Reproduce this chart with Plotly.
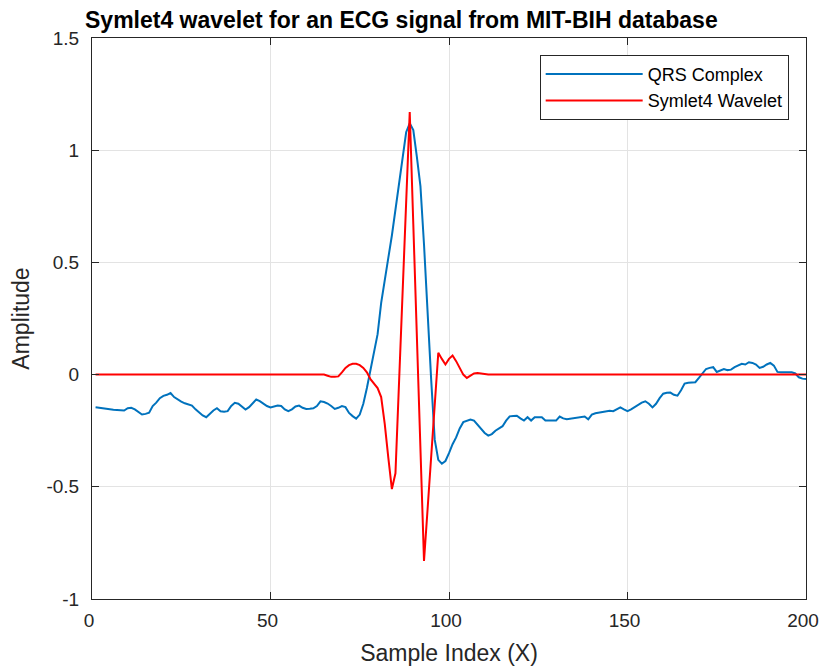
import plotly.graph_objects as go

sample_idx = list(range(1, 201))

qrs_complex = [
    -0.145, -0.148, -0.150, -0.152, -0.155, -0.157, -0.158, -0.160, -0.160, -0.150,
    -0.148, -0.155, -0.165, -0.178, -0.175, -0.170, -0.140, -0.125, -0.105, -0.095,
    -0.090, -0.082, -0.100, -0.112, -0.120, -0.128, -0.132, -0.138, -0.155, -0.170,
    -0.182, -0.190, -0.175, -0.160, -0.150, -0.163, -0.165, -0.163, -0.140, -0.126,
    -0.130, -0.145, -0.156, -0.145, -0.130, -0.111, -0.118, -0.130, -0.140, -0.146,
    -0.142, -0.138, -0.140, -0.155, -0.163, -0.155, -0.142, -0.138, -0.148, -0.153,
    -0.152, -0.150, -0.140, -0.119, -0.122, -0.129, -0.140, -0.153, -0.148, -0.140,
    -0.145, -0.171, -0.185, -0.196, -0.178, -0.130, -0.060, 0.020, 0.090, 0.180,
    0.320, 0.430, 0.520, 0.620, 0.740, 0.850, 0.980, 1.080, 1.120, 1.090,
    0.970, 0.840, 0.580, 0.250, -0.020, -0.290, -0.380, -0.397, -0.385, -0.350,
    -0.310, -0.280, -0.240, -0.212, -0.205, -0.200, -0.205, -0.225, -0.245, -0.260,
    -0.272, -0.265, -0.250, -0.238, -0.230, -0.205, -0.186, -0.184, -0.183, -0.195,
    -0.205, -0.190, -0.205, -0.190, -0.190, -0.190, -0.205, -0.205, -0.205, -0.205,
    -0.187, -0.195, -0.199, -0.196, -0.195, -0.193, -0.190, -0.187, -0.199, -0.178,
    -0.172, -0.170, -0.168, -0.163, -0.161, -0.163, -0.155, -0.146, -0.155, -0.163,
    -0.155, -0.145, -0.138, -0.125, -0.119, -0.130, -0.146, -0.130, -0.105, -0.085,
    -0.081, -0.080, -0.090, -0.094, -0.070, -0.040, -0.036, -0.034, -0.034, -0.015,
    0.005, 0.025, 0.030, 0.033, 0.012, 0.018, 0.025, 0.020, 0.022, 0.033,
    0.040, 0.048, 0.045, 0.055, 0.052, 0.045, 0.030, 0.035, 0.045, 0.052,
    0.040, 0.012, 0.010, 0.010, 0.010, 0.010, 0.005, -0.012, -0.018, -0.020,
]

symlet4 = (
    [0.0] * 64
    + [0.0, -0.005, -0.010, -0.010, -0.008, 0.010, 0.030, 0.042, 0.048, 0.048,
       0.042, 0.030, 0.010, -0.020, -0.040, -0.060, -0.100, -0.220, -0.370, -0.510,
       -0.440, -0.040, 0.370, 0.770, 1.170, 0.670, 0.170, -0.330, -0.830, -0.600,
       -0.370, -0.140, 0.097, 0.070, 0.045, 0.070, 0.085, 0.060, 0.030, 0.000,
       -0.015, -0.005, 0.005, 0.007, 0.005, 0.000]
)
symlet4 = symlet4 + [0.0] * (200 - len(symlet4))

x_ticks = [0, 50, 100, 150, 200]
y_ticks = [-1, -0.5, 0, 0.5, 1, 1.5]
y_tick_labels = ["-1", "-0.5", "0", "0.5", "1", "1.5"]

FONT = "Liberation Sans, Arial"

fig = go.Figure()
fig.add_trace(go.Scatter(x=sample_idx, y=qrs_complex, mode="lines", name="QRS Complex",
                         line=dict(color="#0072BD", width=2)))
fig.add_trace(go.Scatter(x=sample_idx, y=symlet4, mode="lines", name="Symlet4 Wavelet",
                         line=dict(color="#FF0000", width=2)))

axis_common = dict(showgrid=True, gridcolor="#E3E3E3", gridwidth=1, zeroline=False,
                   showline=True, linecolor="#262626", linewidth=1, mirror="ticks",
                   ticks="inside", ticklen=7, tickcolor="#262626", automargin=False,
                   ticklabeloverflow="allow",
                   tickfont=dict(family=FONT, size=19, color="#262626"))

fig.update_layout(
    width=821, height=666,
    paper_bgcolor="white", plot_bgcolor="white",
    margin=dict(l=92, r=15, t=38, b=67),
    title=dict(text="<b>Symlet4 wavelet for an ECG signal from MIT-BIH database</b>",
               x=85 / 821, xanchor="left", y=1 - 20 / 666, yanchor="middle",
               font=dict(family=FONT, size=23, color="black")),
    xaxis=dict(range=[0, 200], tickvals=x_ticks, ticklabelstandoff=4,
               ticklabelshift=-3,
               title=dict(text="Sample Index (X)", standoff=16,
                          font=dict(family=FONT, size=23, color="#262626")),
               **axis_common),
    yaxis=dict(range=[-1, 1.5], tickvals=y_ticks, ticktext=y_tick_labels,
               ticklabelstandoff=8,
               title=dict(text="Amplitude", standoff=10,
                          font=dict(family=FONT, size=23, color="#262626")),
               **axis_common),
    legend=dict(x=0.627, y=0.97, xanchor="left", yanchor="top",
                bgcolor="white", bordercolor="#262626", borderwidth=1,
                font=dict(family=FONT, size=18, color="black"),
                tracegroupgap=0, itemwidth=97),
    showlegend=True,
)

fig.write_html(
    "out.html",
    config={"displayModeBar": False},
    post_script="document.body.style.margin='0';document.body.style.overflow='hidden';",
)
